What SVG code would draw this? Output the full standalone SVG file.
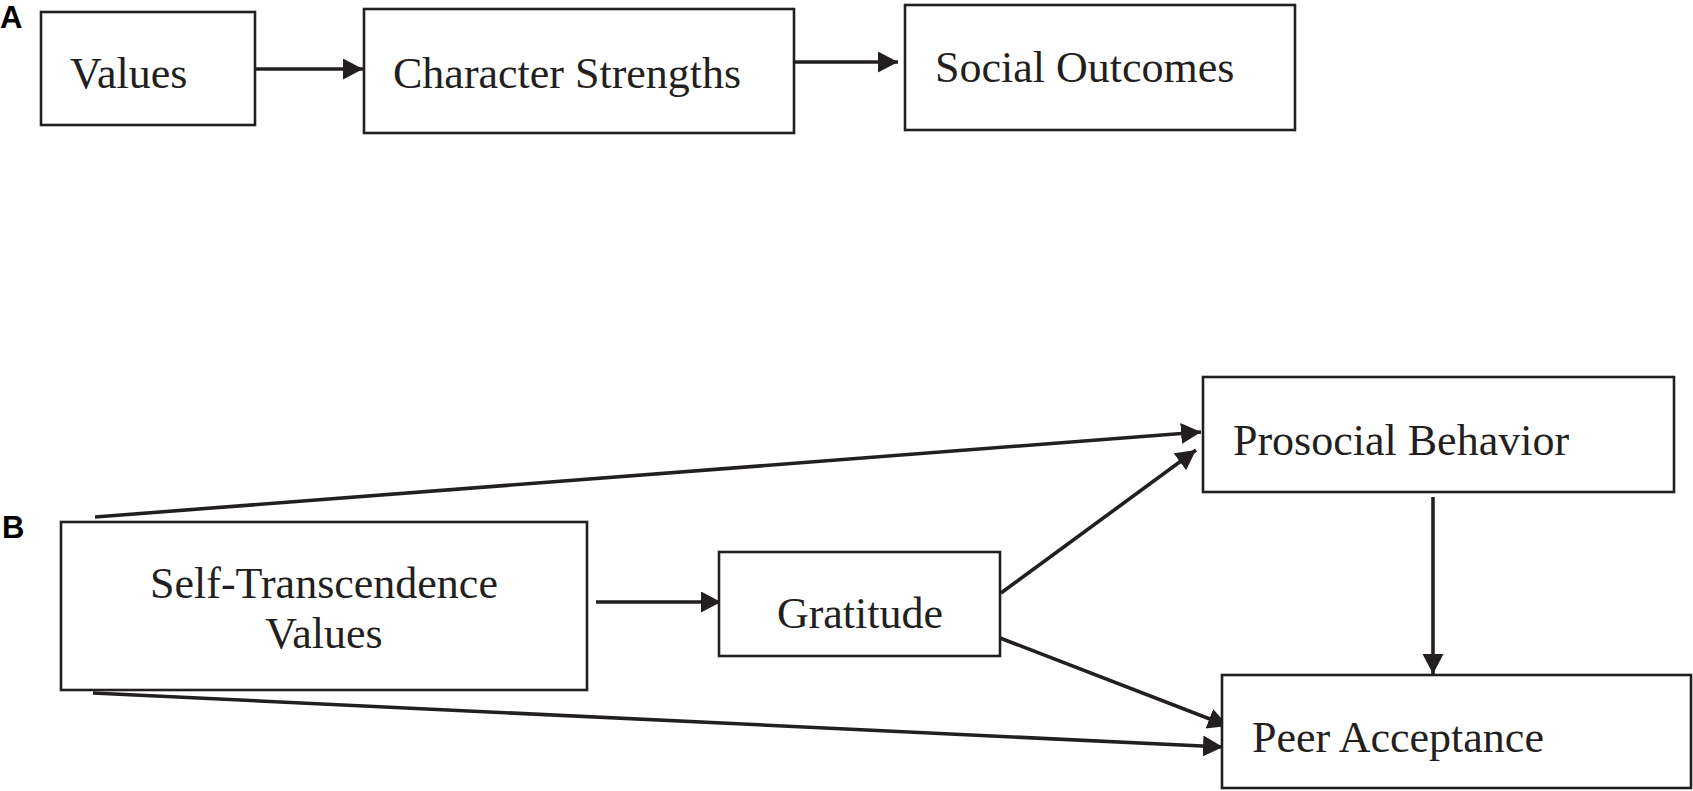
<svg xmlns="http://www.w3.org/2000/svg" width="1693" height="791" viewBox="0 0 1693 791">
<style>
.box{fill:#fff;stroke:#231f20;stroke-width:2.6}
.lbl{font-family:"Liberation Serif","Times New Roman",serif;font-size:44px;fill:#231f20}
.pl{font-family:"Liberation Sans",Arial,sans-serif;font-size:31px;font-weight:bold;fill:#000}
.edge{stroke:#231f20;stroke-width:3.6;fill:none;marker-end:url(#ah)}
</style>
<defs>
<marker id="ah" markerUnits="userSpaceOnUse" markerWidth="21" markerHeight="22" refX="20" refY="10.5" orient="auto">
<path d="M0,0 L20,10.5 L0,21 z" fill="#231f20"/>
</marker>
</defs>
<rect width="1693" height="791" fill="#fff"/>
<text class="pl" x="0" y="28">A</text>
<text class="pl" x="2" y="538">B</text>
<g id="connectors">
<line class="edge" x1="255" y1="69" x2="363" y2="69"/>
<line class="edge" x1="794" y1="62" x2="898" y2="62"/>
<line class="edge" x1="95" y1="517" x2="1201" y2="432"/>
<line class="edge" x1="596" y1="602" x2="721" y2="602"/>
<line class="edge" x1="1001" y1="593" x2="1196" y2="450"/>
<line class="edge" x1="1000" y1="638" x2="1228" y2="726"/>
<line class="edge" x1="93" y1="693" x2="1223" y2="747"/>
<line class="edge" x1="1433" y1="497" x2="1433" y2="674"/>
</g>
<g id="values">
<rect class="box" x="41" y="12" width="214" height="113"/>
<text class="lbl" x="70" y="88">Values</text>
</g>
<g id="character-strengths">
<rect class="box" x="364" y="9" width="430" height="124"/>
<text class="lbl" x="393" y="88">Character Strengths</text>
</g>
<g id="social-outcomes">
<rect class="box" x="905" y="5" width="390" height="125"/>
<text class="lbl" x="935" y="82">Social Outcomes</text>
</g>
<g id="self-transcendence">
<rect class="box" x="61" y="522" width="526" height="168"/>
<text class="lbl" x="324" y="598" text-anchor="middle">Self-Transcendence</text>
<text class="lbl" x="324" y="648" text-anchor="middle">Values</text>
</g>
<g id="gratitude">
<rect class="box" x="719" y="552" width="281" height="104"/>
<text class="lbl" x="860" y="628" text-anchor="middle">Gratitude</text>
</g>
<g id="prosocial">
<rect class="box" x="1203" y="377" width="471" height="115"/>
<text class="lbl" x="1233" y="455">Prosocial Behavior</text>
</g>
<g id="peer-acceptance">
<rect class="box" x="1222" y="675" width="469" height="113"/>
<text class="lbl" x="1252" y="752">Peer Acceptance</text>
</g>
</svg>
